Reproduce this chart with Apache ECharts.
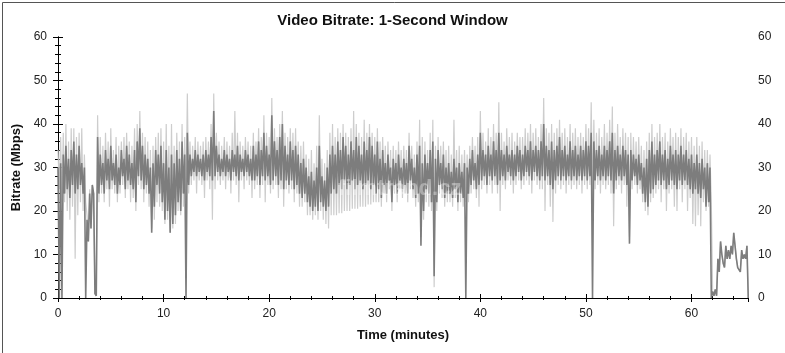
<!DOCTYPE html>
<html><head><meta charset="utf-8">
<script src="https://cdn.jsdelivr.net/npm/echarts@6/dist/echarts.min.js"></script>
<style>html,body{margin:0;padding:0;background:#fff}#c{width:785px;height:353px}</style>
</head><body><div id="c"></div>
<script>
// Time step between samples (minutes); each step holds a high and a low reading
const STEP = 0.25;
const yTicks = [0, 10, 20, 30, 40, 50, 60];
const xTicks = [0, 10, 20, 30, 40, 50, 60];

// Dark series (1-second bitrate), high/low per 0.25 min
const darkHi = [30,31,33,35,32,34,36,33,35,31,30,18,24,26,1,37,33,31,34,32,35,31,33,30,34,32,35,33,31,34,36,39,35,33,32,30,31,34,33,35,31,34,30,33,31,34,32,36,33,38,33,32,34,33,32,33,34,33,37,43,35,33,32,34,33,32,34,33,35,33,32,34,33,32,35,33,36,34,38,35,33,42,36,34,37,40,35,33,36,34,35,33,31,32,30,28,29,27,30,35,28,27,30,33,35,33,36,34,37,35,33,36,34,37,35,33,36,34,37,35,33,36,32,34,31,33,30,32,31,33,30,32,31,35,32,30,33,35,31,33,31,34,36,32,34,31,33,30,31,29,32,30,31,29,31,30,32,34,31,33,38,34,33,35,33,36,34,38,34,33,35,33,34,33,35,34,33,35,34,36,34,35,34,36,40,35,34,36,34,35,37,34,35,33,36,34,35,33,35,34,36,35,38,36,34,35,33,35,34,36,38,34,35,33,35,34,33,34,33,32,33,31,30,32,34,36,33,34,36,33,34,32,35,33,34,33,35,33,34,32,33,31,33,31,32,30,31,30,1.5,2,9,13,8,12,11,12,15,9,7,11,10,12];
const darkLo = [0,0,24,25,23,26,24,25,26,24,0,13,16,24,0.5,24,26,24,27,25,27,26,24,26,28,25,27,26,25,22,28,27,25,26,24,15,21,26,24,22,18,20,15,17,19,22,20,24,0,26,28,29,28,29,28,27,29,28,27,28,29,28,29,28,29,27,29,28,27,29,28,29,28,27,27,28,26,28,27,28,26,27,28,26,27,25,27,26,27,25,26,24,23,24,22,21,20,21,20,22,21,20,21,24,25,24,26,25,27,25,26,27,25,26,27,25,26,27,25,26,24,25,23,26,24,27,22,26,24,27,25,26,24,27,25,23,24,12,20,25,24,22,5,22,26,25,23,24,24,23,25,22,24,23,0,24,26,27,25,26,27,28,26,28,27,28,26,27,28,27,29,28,27,28,29,27,28,29,28,27,29,28,27,28,27,28,26,25,27,28,27,28,27,28,27,28,27,28,27,28,27,28,0,27,28,27,28,27,28,27,24,27,28,27,28,26,12.5,27,28,26,27,24,22,21,24,25,26,27,26,27,25,26,27,26,25,27,26,27,26,25,24,25,24,23,25,21,22,0,0.5,0.5,6,10,7,9,9,10,12,7,6,9,9,0];

// Light series (peak envelope), high/low per 0.25 min
const lightHi = [34,37,38,40,36,39,39,37,38,39,33,19,25,26,1,42,37,35,38,36,39,34,37,35,36,37,38,36,35,39,40,43,38,37,36,34,35,37,38,39,36,40,35,40,35,38,36,40,37,47,36,35,37,36,35,36,37,36,40,47,38,36,35,37,36,35,38,43,38,36,35,37,36,35,38,36,39,37,42,38,37,46,39,37,40,43,38,37,39,38,39,36,35,36,33,32,34,31,35,42,32,31,34,38,40,37,39,38,40,38,37,39,43,40,38,37,41,38,40,38,37,39,36,37,35,36,34,35,34,36,34,35,34,38,35,33,36,41,37,36,34,38,41,35,37,35,36,34,35,33,41,34,35,33,34,33,35,37,35,37,43,38,36,39,37,40,38,45,38,36,39,37,38,36,38,37,37,39,38,40,38,39,37,40,46,39,38,40,38,39,41,38,39,37,40,38,39,37,38,37,40,39,45,41,38,39,37,40,38,41,44,38,40,37,39,38,37,38,37,36,37,35,34,36,38,40,37,38,40,37,38,36,39,37,38,37,39,37,38,36,37,35,37,35,36,34,34,33,1.5,2,9,13,8,12,11,12,15,9,7,11,10,12];
const lightLo = [25,22,22,20,18,21,9,19,22,20,22,13,16,24,0.5,22,24,22,25,21,25,24,22,24,26,23,25,22,23,20,26,25,22,24,21,16,18,22,21,20,17,18,15,16,17,20,19,21,22,24,26,27,24,27,26,23,27,25,18,25,27,26,27,25,27,24,27,26,22,27,25,27,26,23,25,26,23,26,22,26,24,25,26,23,25,21,25,24,25,22,24,21,21,22,19,19,18,19,18,20,18,17,16,19,19,19,19.5,19.5,20,20,20,20.5,20.5,20.5,21,21,21,21.5,21.5,22,22,22,21,24,22,25,20,24,22,25,23,24,22,25,23,21,22,14,18,22,21,20,2.5,20,24,23,21,22,22,21,23,20,22,21,22,22,24,25,23,21,25,26,24,26,24,26,24,20,26,25,27,26,24,26,27,25,26,27,26,24,27,26,25,25,20,26,21,17.5,24,26,25,26,24,26,25,26,25,26,24,26,25,26,22,25,26,24,26,25,26,24,16.5,25,26,24,26,21,14,25,26,24,25,22,20,19,22,23,24,25,22,25,20,24,25,21,20,25,22,25,20,23,17,16.5,19,16.5,22,20,21,22,0.5,0.5,6,10,7,9,9,10,12,7,6,9,9,0];

function build(hi, lo) {
  const out = [];
  for (let i = 0; i < hi.length; i++) {
    out.push([i * STEP, hi[i]]);
    out.push([i * STEP + STEP / 2, lo[i]]);
  }
  return out;
}

const FONT = '"Liberation Sans", Arial, sans-serif';
const chart = echarts.init(document.getElementById('c'), null, {renderer: 'canvas'});
const labelStyle = {color: '#222', fontSize: 12, fontFamily: FONT};
const axLine = {show: true, lineStyle: {color: '#000', width: 1}};

chart.setOption({
  animation: false,
  backgroundColor: '#fff',
  title: {
    text: 'Video Bitrate: 1-Second Window', left: 'center', top: 8,
    textStyle: {fontSize: 15, fontWeight: 'bold', color: '#111', fontFamily: FONT}
  },
  grid: {left: 58, right: 37, top: 37, bottom: 55, containLabel: false},
  xAxis: [{
    type: 'value', min: 0, max: 65.35, interval: 10, position: 'bottom',
    name: 'Time (minutes)', nameLocation: 'middle', nameGap: 31,
    nameTextStyle: {fontSize: 13, fontWeight: 'bold', color: '#111', fontFamily: FONT},
    axisLine: axLine,
    axisTick: {show: true, inside: true, length: 4, lineStyle: {color: '#000'}},
    minorTick: {show: true, splitNumber: 5, length: 2, lineStyle: {color: '#000'}},
    axisLabel: {...labelStyle, margin: 10, showMaxLabel: false,
      formatter: v => xTicks.includes(v) ? String(v) : ''},
    splitLine: {show: false}
  }, {
    type: 'value', min: 0, max: 65.35, interval: 10, position: 'top',
    axisLine: axLine,
    axisTick: {show: true, inside: true, length: 4, lineStyle: {color: '#000'}},
    minorTick: {show: true, splitNumber: 5, length: 2, lineStyle: {color: '#000'}},
    axisLabel: {show: false}, splitLine: {show: false}
  }],
  yAxis: [{
    type: 'value', min: 0, max: 60, interval: 10, position: 'left',
    name: 'Bitrate (Mbps)', nameLocation: 'middle', nameGap: 33, nameRotate: 90,
    nameTextStyle: {fontSize: 13, fontWeight: 'bold', color: '#111', fontFamily: FONT},
    axisLine: axLine,
    axisTick: {show: true, length: 5, lineStyle: {color: '#000'}},
    minorTick: {show: true, splitNumber: 5, length: 3, lineStyle: {color: '#000'}},
    axisLabel: {...labelStyle, margin: 11, formatter: v => yTicks.includes(v) ? String(v) : ''},
    splitLine: {show: false}
  }, {
    type: 'value', min: 0, max: 60, interval: 10, position: 'right',
    axisLine: axLine,
    axisTick: {show: true, length: 5, lineStyle: {color: '#000'}},
    minorTick: {show: true, splitNumber: 5, length: 3, lineStyle: {color: '#000'}},
    axisLabel: {...labelStyle, margin: 10, formatter: v => yTicks.includes(v) ? String(v) : ''},
    splitLine: {show: false}
  }],
  series: [{
    name: 'Peak', type: 'line', xAxisIndex: 0, yAxisIndex: 0,
    data: build(lightHi, lightLo), showSymbol: false, sampling: null, clip: true,
    lineStyle: {color: '#cdcdcd', width: 1.2}, z: 2
  }, {
    name: 'Bitrate', type: 'line', xAxisIndex: 0, yAxisIndex: 0,
    data: build(darkHi, darkLo), showSymbol: false, sampling: null, clip: true,
    lineStyle: {color: '#7d7d7d', width: 1.6}, z: 3
  }],
  graphic: [{
    type: 'text', left: 338, top: 178, z: 10, silent: true,
    style: {text: 'filmtrend.cz', font: 'bold 22px ' + FONT, fill: 'rgba(255,255,255,0.35)'}
  }, {
    type: 'rect', left: 0, top: 0, z: 20, silent: true,
    shape: {x: 0, y: 0, width: 784, height: 352},
    style: {fill: 'none', stroke: '#555', lineWidth: 1}
  }]
});
</script></body></html>
